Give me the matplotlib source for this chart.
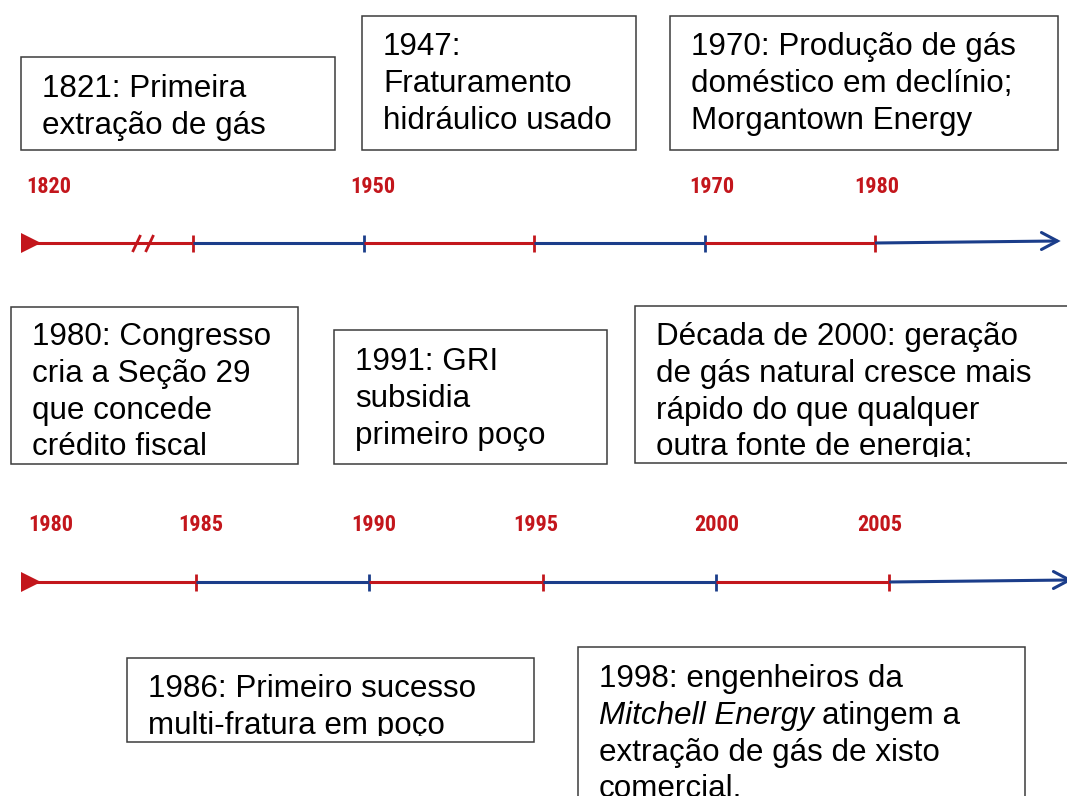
import matplotlib
matplotlib.use("Agg")
import matplotlib.pyplot as plt
from matplotlib import font_manager
from matplotlib.patches import Rectangle
from matplotlib.transforms import Bbox, TransformedBbox

RED = "#c3161c"
BLUE = "#1b3d8a"

# timeline 1: broken axis, the start stands for 1820, then decades 1940-1980
t1_bounds = [1930, 1940, 1950, 1960, 1970, 1980, 1990.7]
t1_labels = ["1820", "1950", "1970", "1980"]
t1_label_years = [1930, 1950, 1970, 1980]

# timeline 2: 1980-2005 in 5 year steps
t2_bounds = [1980, 1985, 1990, 1995, 2000, 2005, 2010.2]
t2_labels = ["1980", "1985", "1990", "1995", "2000", "2005"]
t2_label_years = [1980, 1985, 1990, 1995, 2000, 2005]

events = [
    ["1821: Primeira", "extração de gás"],
    ["1947:", "Fraturamento", "hidráulico usado"],
    ["1970: Produção de gás", "doméstico em declínio;", "Morgantown Energy"],
    ["1980: Congresso", "cria a Seção 29", "que concede", "crédito fiscal"],
    ["1991: GRI", "subsidia", "primeiro poço"],
    ["Década de 2000: geração", "de gás natural cresce mais",
     "rápido do que qualquer", "outra fonte de energia;"],
    ["1986: Primeiro sucesso", "multi-fratura em poço"],
    ["1998: engenheiros da", "*Mitchell Energy* atingem a",
     "extração de gás de xisto", "comercial."],
]

# layout (pixels): box x0, y0, x1, y1, first baseline
boxes = [
    (21, 57, 335, 150, 97),
    (362, 16, 636, 150, 55),
    (670, 16, 1058, 150, 55),
    (11, 307, 298, 464, 345),
    (334, 330, 607, 464, 370),
    (635, 306, 1080, 463, 345),
    (127, 658, 534, 742, 697),
    (578, 647, 1025, 820, 687),
]
line_step = 36.8
text_pad = 21

installed = {f.name for f in font_manager.fontManager.ttflist}
narrow = next((n for n in ["Liberation Sans Narrow", "Roboto Condensed",
                           "DejaVu Sans Condensed", "Arial Narrow"]
               if n in installed), None)
if narrow:
    label_font = dict(family=[narrow, "DejaVu Sans"], fontsize=16)
else:
    label_font = dict(family=["Liberation Sans", "DejaVu Sans"],
                      fontsize=14.5)

fig = plt.figure(figsize=(10.67, 7.96), dpi=100)
base = fig.add_axes([0, 0, 1, 1])
base.set_xlim(0, 1067)
base.set_ylim(796, 0)
base.axis("off")


def draw_timeline(bounds, labels, label_years, label_dx, xlim, y, label_y,
                  rise):
    ax = fig.add_axes([0, 0, 1, 1])
    ax.set_xlim(*xlim)
    ax.set_ylim(796, 0)
    ax.axis("off")
    ax.patch.set_alpha(0)
    ppy = 1067 / (xlim[1] - xlim[0])
    n = len(bounds) - 1
    for i in range(n):
        col = RED if i % 2 == 0 else BLUE
        y_end = y - rise if i == n - 1 else y
        ax.plot([bounds[i], bounds[i + 1]], [y, y_end], color=col, lw=2.2,
                solid_capstyle="butt")
        if i < n - 1:
            ax.vlines(bounds[i + 1], y - 8.5, y + 8.5, color=col, lw=2)
    # start triangle
    ax.plot(bounds[0] + 8 / ppy, y, marker=">", ms=14, color=RED, mew=0)
    # open arrow head
    tip = bounds[-1]
    back = tip - 16 / ppy
    ax.plot([back, tip, back], [y - rise - 8.5, y - rise, y - rise + 8.5],
            color=BLUE, lw=2.2, solid_capstyle="round",
            solid_joinstyle="miter")
    for lab, yr, dx in zip(labels, label_years, label_dx):
        ax.annotate(lab, xy=(yr, label_y), xytext=(dx, 0),
                    textcoords="offset pixels", ha="center", va="center",
                    fontweight="bold", color=RED, **label_font)
    return ax


ax1 = draw_timeline(t1_bounds, t1_labels, t1_label_years, [26, 9, 7, 2],
                    (1928.68, 1991.26), 243, 187, 2)
ax2 = draw_timeline(t2_bounds, t2_labels, t2_label_years,
                    [28, 5, 4, -7, 1, -9], (1979.34, 2010.13), 582, 525, 2)

# axis break "//" on timeline 1
bx = ax1.transData.transform((1937.1, 243))[0]
base.plot([bx - 6, bx + 4], [243, 243], color="white", lw=4)
for off in (-7, 6):
    base.plot([bx + off - 4, bx + off + 4], [252, 235], color=RED, lw=2,
              solid_capstyle="butt")

renderer = fig.canvas.get_renderer()
font = dict(fontsize=22.6, family=["Liberation Sans", "DejaVu Sans"],
            color="black", va="baseline", ha="left")

for lines, (x0, y0, x1, y1, first) in zip(events, boxes):
    rect = Rectangle((x0, y0), x1 - x0, y1 - y0, facecolor="white",
                     edgecolor="#3c3c3c", lw=1.1, zorder=2)
    base.add_patch(rect)
    # text is cut a little above the lower border, as in the source slide
    clip = TransformedBbox(Bbox([[x0, y0], [x1, y1 - 6]]), base.transData)
    for k, line in enumerate(lines):
        yb = first + k * line_step
        x = x0 + text_pad
        parts = line.split("*")
        for j, part in enumerate(parts):
            if not part:
                continue
            t = base.text(x, yb, part.strip(), zorder=3,
                          style="italic" if j % 2 == 1 else "normal", **font)
            t.set_clip_box(clip)
            t.set_clip_on(True)
            x = t.get_window_extent(renderer).x1 + 8

fig.savefig("out.png", dpi=100)
